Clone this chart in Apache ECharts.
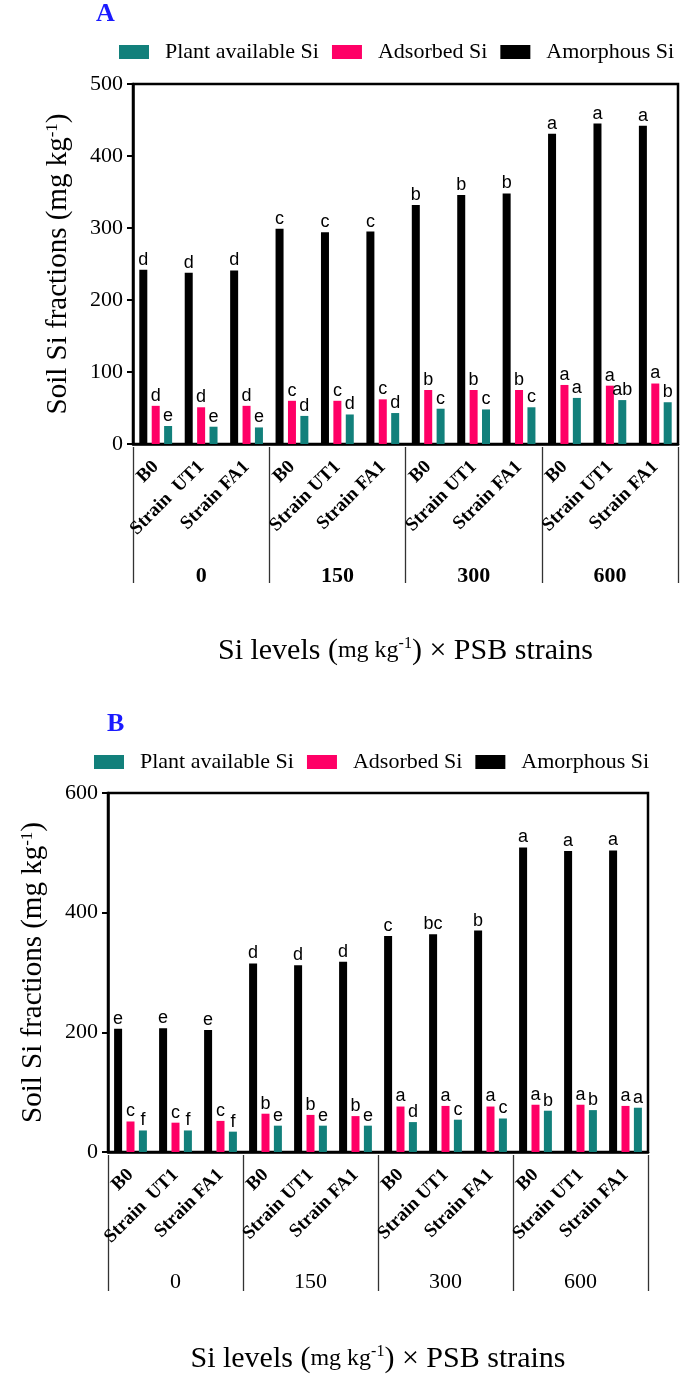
<!DOCTYPE html>
<html>
<head>
<meta charset="utf-8">
<script src="https://cdn.jsdelivr.net/npm/echarts@6/dist/echarts.min.js"></script>
<style>
  html, body { margin: 0; padding: 0; background: #fff; }
  #main { width: 685px; height: 1375px; }
</style>
</head>
<body>
<div id="main"></div>
<script>
// x-axis categories (strain within each Si level)
const strainsA = ['B0', 'Strain  UT1', 'Strain FA1', 'B0', 'Strain UT1', 'Strain FA1',
  'B0', 'Strain UT1', 'Strain FA1', 'B0', 'Strain UT1', 'Strain FA1'];
const strainsB = strainsA.slice();
const siLevels = ['0', '150', '300', '600'];

// panel A values (mg kg-1)
const amorphousA = [242, 238, 241, 299, 294, 295, 332, 346, 348, 431, 445, 442];
const adsorbedA = [53, 51, 53, 60, 60, 62, 75, 75, 75, 82, 81, 84];
const availableA = [25, 24, 23, 39, 41, 43, 49, 48, 51, 64, 61, 58];
const amorphousLettersA = ['d', 'd', 'd', 'c', 'c', 'c', 'b', 'b', 'b', 'a', 'a', 'a'];
const adsorbedLettersA = ['d', 'd', 'd', 'c', 'c', 'c', 'b', 'b', 'b', 'a', 'a', 'a'];
const availableLettersA = ['e', 'e', 'e', 'd', 'd', 'd', 'c', 'c', 'c', 'a', 'ab', 'b'];

// panel B values (mg kg-1)
const amorphousB = [206, 207, 204, 315, 312, 318, 361, 364, 370, 509, 503, 504];
const adsorbedB = [51, 49, 52, 64, 62, 60, 76, 77, 76, 79, 79, 77];
const availableB = [36, 36, 34, 44, 44, 44, 50, 54, 56, 69, 70, 74];
const amorphousLettersB = ['e', 'e', 'e', 'd', 'd', 'd', 'c', 'bc', 'b', 'a', 'a', 'a'];
const adsorbedLettersB = ['c', 'c', 'c', 'b', 'b', 'b', 'a', 'a', 'a', 'a', 'a', 'a'];
const availableLettersB = ['f', 'f', 'f', 'e', 'e', 'e', 'd', 'c', 'c', 'b', 'b', 'a'];

const seriesNames = ['Plant available Si', 'Adsorbed Si', 'Amorphous Si'];
const colors = { 'Plant available Si': '#12807b', 'Adsorbed Si': '#ff0066', 'Amorphous Si': '#000000' };

const serif = "'Liberation Serif', 'Times New Roman', serif";
const sans = "'Liberation Sans', Arial, sans-serif";

function makeBar(name, values, letters, xi, yi) {
  return {
    name: name,
    type: 'bar',
    xAxisIndex: xi,
    yAxisIndex: yi,
    data: values,
    barWidth: 8,
    barGap: '55%',
    itemStyle: { color: colors[name] },
    label: {
      show: true,
      position: 'top',
      distance: 1,
      color: '#000',
      fontFamily: sans,
      fontSize: 18,
      formatter: p => letters[p.dataIndex]
    }
  };
}

function legendAt(left, top) {
  return {
    left: left,
    top: top,
    width: 600,
    padding: 0,
    data: seriesNames,
    icon: 'rect',
    itemWidth: 30,
    itemHeight: 14,
    itemGap: 13,
    selectedMode: false,
    textStyle: { fontFamily: serif, fontSize: 22, color: '#000', padding: [0, 0, 0, 11] }
  };
}

function catAxis(grid, data) {
  return {
    type: 'category',
    gridIndex: grid,
    data: data,
    axisLine: { lineStyle: { color: '#000', width: 2.5 } },
    axisTick: { alignWithLabel: true, length: 7, lineStyle: { color: '#000', width: 2.5 } },
    axisLabel: {
      interval: 0, rotate: 45, margin: 20,
      fontFamily: serif, fontWeight: 'bold', fontSize: 19, color: '#000'
    }
  };
}

function groupAxis(grid, bold, labelMargin) {
  return {
    type: 'category',
    gridIndex: grid,
    data: siLevels,
    position: 'bottom',
    offset: 3,
    axisLine: { show: false },
    axisTick: { show: true, interval: 0, length: 136, lineStyle: { color: '#333', width: 1.3 } },
    axisLabel: {
      interval: 0, margin: labelMargin,
      fontFamily: serif, fontSize: 22, fontWeight: bold ? 'bold' : 'normal', color: '#000'
    },
    name: '{t|Si levels (}{m|mg kg}{s|-1}{t|) \u00d7 PSB strains}',
    nameLocation: 'middle',
    nameGap: 189,
    nameTextStyle: {
      rich: {
        t: { fontFamily: serif, fontSize: 30, color: '#000' },
        m: { fontFamily: serif, fontSize: 24, color: '#000' },
        s: { fontFamily: serif, fontSize: 16, color: '#000', verticalAlign: 'top' }
      }
    }
  };
}

function valAxis(grid, max, interval) {
  return {
    type: 'value',
    gridIndex: grid,
    min: 0,
    max: max,
    interval: interval,
    splitLine: { show: false },
    axisLine: { show: true, lineStyle: { color: '#000', width: 2.5 } },
    axisTick: { show: true, length: 6, lineStyle: { color: '#000', width: 2 } },
    axisLabel: { margin: 10, fontFamily: serif, fontSize: 22, color: '#000' },
    name: '{t|Soil Si fractions (mg kg}{s|-1}{t|)}',
    nameLocation: 'middle',
    nameGap: 60,
    nameTextStyle: {
      rich: {
        t: { fontFamily: serif, fontSize: 29, color: '#000' },
        s: { fontFamily: serif, fontSize: 17, color: '#000', verticalAlign: 'top' }
      }
    }
  };
}

const chart = echarts.init(document.getElementById('main'), null, { renderer: 'canvas' });

chart.setOption({
  backgroundColor: '#fff',
  animation: false,
  title: [
    { text: 'A', left: 96, top: 1, padding: 0,
      textStyle: { color: '#1a1aff', fontFamily: serif, fontWeight: 'bold', fontSize: 26 } },
    { text: 'B', left: 107, top: 711, padding: 0,
      textStyle: { color: '#1a1aff', fontFamily: serif, fontWeight: 'bold', fontSize: 26 } }
  ],
  legend: [legendAt(119, 41), legendAt(94, 751)],
  grid: [
    { left: 133, top: 84, width: 545, height: 360, show: true, borderColor: '#000', borderWidth: 2.5 },
    { left: 108, top: 793, width: 540, height: 360, show: true, borderColor: '#000', borderWidth: 2.5 }
  ],
  xAxis: [
    catAxis(0, strainsA),
    groupAxis(0, true, 118),
    catAxis(1, strainsB),
    groupAxis(1, false, 116)
  ],
  yAxis: [
    valAxis(0, 500, 100),
    valAxis(1, 600, 200)
  ],
  series: [
    makeBar('Amorphous Si', amorphousA, amorphousLettersA, 0, 0),
    makeBar('Adsorbed Si', adsorbedA, adsorbedLettersA, 0, 0),
    makeBar('Plant available Si', availableA, availableLettersA, 0, 0),
    makeBar('Amorphous Si', amorphousB, amorphousLettersB, 2, 1),
    makeBar('Adsorbed Si', adsorbedB, adsorbedLettersB, 2, 1),
    makeBar('Plant available Si', availableB, availableLettersB, 2, 1)
  ]
});
</script>
</body>
</html>
